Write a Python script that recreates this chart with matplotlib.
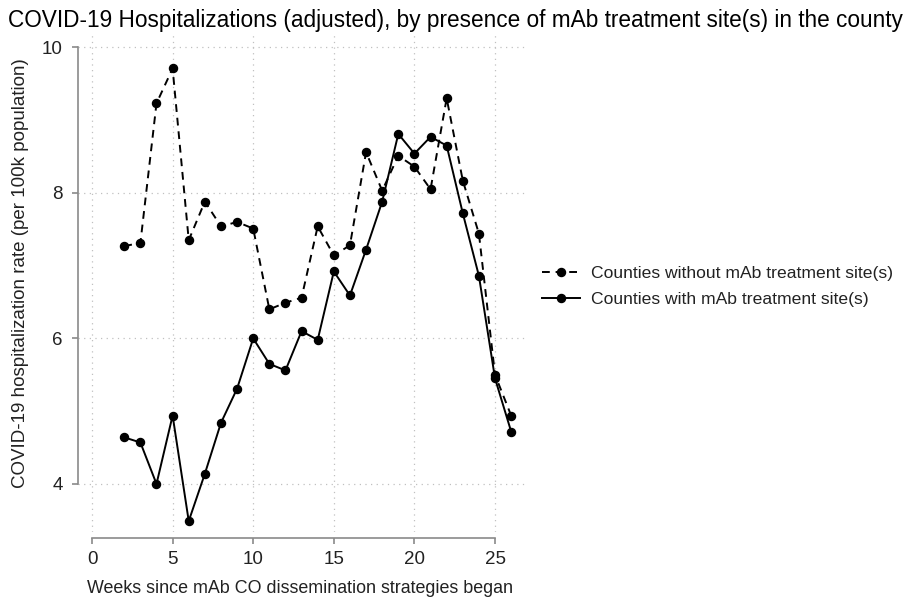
import matplotlib.pyplot as plt
import numpy as np

plt.rcParams['font.family'] = ['Liberation Sans', 'DejaVu Sans']

weeks = np.arange(2, 27)

# counties without a mAb treatment site (dashed)
rate_without = [7.27, 7.31, 9.23, 9.71, 7.35, 7.88, 7.54, 7.60, 7.51, 6.40,
                6.49, 6.56, 7.54, 7.14, 7.28, 8.56, 8.03, 8.51, 8.36, 8.05,
                9.30, 8.17, 7.44, 5.50, 4.94]

# counties with a mAb treatment site (solid)
rate_with = [4.64, 4.57, 4.00, 4.94, 3.49, 4.14, 4.84, 5.31, 6.00, 5.65,
             5.56, 6.10, 5.98, 6.92, 6.59, 7.22, 7.88, 8.81, 8.54, 8.77,
             8.65, 7.72, 6.86, 5.45, 4.72]

x_ticks = [0, 5, 10, 15, 20, 25]
y_ticks = [4, 6, 8, 10]

fig = plt.figure(figsize=(9.10, 5.99), dpi=100)
ax = fig.add_axes([0.0857, 0.1119, 0.4923, 0.8297])

ax.plot(weeks, rate_without, color='black', lw=1.4, ls=(0, (4, 3)),
        marker='o', ms=5.8, label='Counties without mAb treatment site(s)')
ax.plot(weeks, rate_with, color='black', lw=1.4, ls='-',
        marker='o', ms=5.8, label='Counties with mAb treatment site(s)')

ax.set_xlim(-0.87, 26.92)
ax.set_ylim(3.34, 10.17)
ax.set_xticks(x_ticks)
ax.set_yticks(y_ticks)
ax.grid(True, ls=(0, (1, 3.5)), color='#c0c0c0', lw=0.9)

for side in ['top', 'right']:
    ax.spines[side].set_visible(False)
ax.spines['left'].set_bounds(4, 10)
ax.spines['bottom'].set_bounds(0, 25)
ax.spines['bottom'].set_position(('outward', 4))
for side in ['left', 'bottom']:
    ax.spines[side].set_color('#8a8a8a')
    ax.spines[side].set_linewidth(1.2)

ax.tick_params(axis='both', colors='#8a8a8a', labelcolor='#222222',
               length=4, width=1.2, labelsize=13.5)
ax.tick_params(axis='y', pad=7)
ax.tick_params(axis='x', pad=6)

ax.set_xlabel('Weeks since mAb CO dissemination strategies began',
              fontsize=12.9, color='#222222')
ax.set_ylabel('COVID-19 hospitalization rate (per 100k population)',
              fontsize=13.5, color='#222222')
ax.yaxis.set_label_coords(-0.11, 0.52)
ax.xaxis.set_label_coords(0.496, -0.097)

fig.text(0.009, 0.955, 'COVID-19 Hospitalizations (adjusted), by presence of mAb treatment site(s) in the county',
         fontsize=16.3, ha='left', va='baseline')

fig.legend(loc='center left', bbox_to_anchor=(0.578, 0.522), frameon=False,
           fontsize=12.6, handlelength=2.2, handletextpad=0.6, labelspacing=0.6,
           labelcolor='#222222')

fig.savefig('out.png', dpi=100)
